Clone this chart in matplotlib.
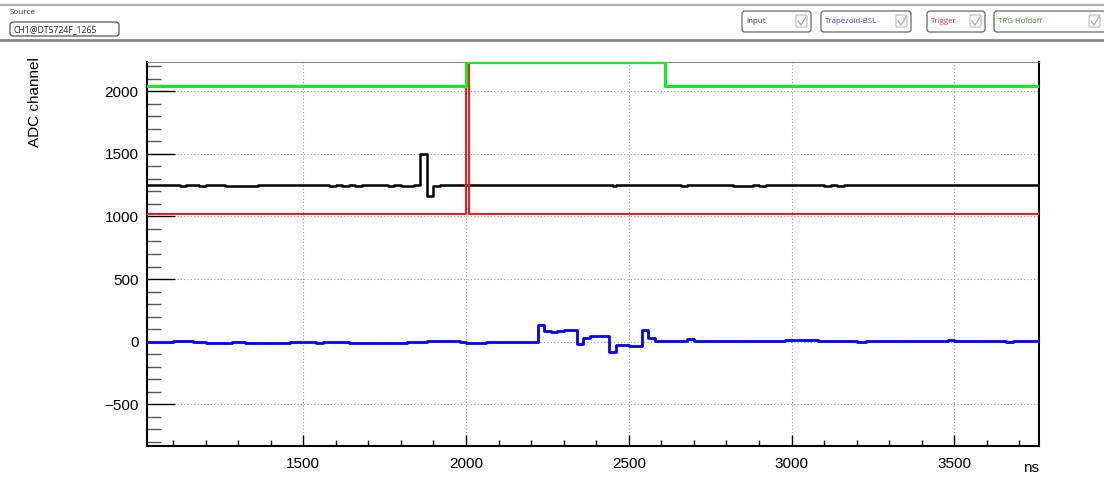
import matplotlib
matplotlib.use("Agg")
import matplotlib.pyplot as plt
from matplotlib.patches import FancyBboxPatch
from matplotlib.lines import Line2D
from matplotlib.transforms import Affine2D
from matplotlib.ticker import MultipleLocator

W, H = 1104, 478

# waveforms as change points: time (ns) -> level (ADC channel), held until next point
input_t = [1020, 1120, 1140, 1180, 1200, 1260, 1360, 1580, 1600, 1620, 1640, 1660, 1680,
           1760, 1780, 1800, 1840, 1860, 1880, 1900, 1920, 2450, 2460, 2660, 2680,
           2820, 2880, 2900, 2920, 3100, 3120, 3140, 3160, 3770]
input_v = [1250, 1240, 1250, 1240, 1250, 1240, 1250, 1240, 1250, 1240, 1250, 1240, 1250,
           1240, 1250, 1240, 1250, 1500, 1160, 1240, 1250, 1240, 1250, 1240, 1250,
           1240, 1250, 1240, 1250, 1240, 1250, 1240, 1250, 1250]

trap_t = [1020, 1100, 1160, 1200, 1280, 1320, 1460, 1540, 1560, 1640, 1820, 1880, 1980,
          2000, 2060, 2220, 2240, 2260, 2280, 2300, 2340, 2360, 2380, 2440, 2460, 2500,
          2540, 2560, 2580, 2680, 2700, 2980, 3080, 3200, 3230, 3400, 3480, 3500, 3660,
          3680, 3770]
trap_v = [0, 8, 0, -8, 0, -8, 0, -8, 0, -8, 0, 8, 0,
          -8, 0, 130, 85, 77, 85, 91, -21, 32, 48, -82, -26, -37,
          91, 32, 8, 18, 6, 14, 6, -4, 2, 6, 12, 6, 0,
          6, 6]

trig_t = [1020, 2000, 2010, 3770]
trig_v = [1020, 2600, 1020, 1020]

hold_t = [1020, 2000, 2610, 3770]
hold_v = [2040, 2232, 2040, 2040]

fig = plt.figure(figsize=(W / 100, H / 100), dpi=100)
plt.rcParams['font.family'] = ['Liberation Sans', 'DejaVu Sans']

# pixel coordinates measured from the top-left corner of the figure
px = Affine2D().scale(1, -1).translate(0, H).scale(0.01) + fig.dpi_scale_trans

# --- toolbar strip ---
fig.add_artist(Line2D([0, W], [4.5, 4.5], color='#b0b0b0', lw=1.5, transform=px))
fig.add_artist(Line2D([0, W], [39.5, 39.5], color='#8a8a8a', lw=2, transform=px))
fig.text(10, 13, 'Source', fontsize=5.8, family='Open Sans', va='center', transform=px, color='#222')
fig.add_artist(FancyBboxPatch((10, 22), 109, 14, boxstyle='round,pad=0,rounding_size=3',
                              fc='white', ec='#555', lw=0.9, transform=px))
fig.text(13, 29.5, 'CH1@DT5724F_1265', fontsize=6.2, family='Open Sans', va='center',
         transform=px, color='#222')

checks = [('Input', 742, 811, '#333333'),
          ('Trapezoid-BSL', 821, 911, '#3a3aff'),
          ('Trigger', 927, 985, '#ff3355'),
          ('TRG Holdoff', 994, 1110, '#3a9a1a')]
for label, x0, x1, col in checks:
    fig.add_artist(FancyBboxPatch((x0, 11), x1 - x0, 21, boxstyle='round,pad=0,rounding_size=3',
                                  fc='white', ec='#666', lw=0.9, transform=px))
    fig.text(x0 + 4, 21.5, label, fontsize=5.7, family='Open Sans', va='center',
             transform=px, color=col)
    cx = min(x1, 1104) - 15
    fig.add_artist(FancyBboxPatch((cx, 15), 11, 12, boxstyle='round,pad=0,rounding_size=1',
                                  fc='white', ec='#bbb', lw=0.8, transform=px))
    fig.add_artist(Line2D([cx + 2, cx + 5, cx + 10], [21, 25, 17], color='#aaa', lw=0.9,
                          transform=px))

# --- waveform frame ---
ax = fig.add_axes([147 / W, 1 - 446 / H, (1039 - 147) / W, (446 - 62) / H])

ax.plot(input_t, input_v, drawstyle='steps-post', color='black', lw=1.8, zorder=3)
ax.plot(trap_t, trap_v, drawstyle='steps-post', color='#0000ff', lw=2.0, zorder=3)
ax.plot(trig_t, trig_v, drawstyle='steps-post', color='#ff1010', lw=1.4, zorder=4)
ax.plot(hold_t, hold_v, drawstyle='steps-post', color='#11ee11', lw=2.2, zorder=5)

ax.set_xlim(1020, 3760)
ax.set_ylim(-835, 2235)

ax.xaxis.set_major_locator(MultipleLocator(500))
ax.xaxis.set_minor_locator(MultipleLocator(100))
ax.yaxis.set_major_locator(MultipleLocator(500))
ax.yaxis.set_minor_locator(MultipleLocator(100))
ax.tick_params(axis='x', which='major', direction='in', length=8, width=1, labelsize=11, pad=8)
ax.tick_params(axis='x', which='minor', direction='in', length=4, width=1)
ax.tick_params(axis='y', which='major', direction='in', length=20, width=1, labelsize=11, pad=6)
ax.tick_params(axis='y', which='minor', direction='in', length=10, width=1, color='#555')
ax.yaxis.set_major_formatter(matplotlib.ticker.FuncFormatter(
    lambda v, p: f'{int(v)}'.replace('-', '\u2212')))

ax.grid(True, which='major', linestyle=(0, (1, 2)), color='#999', lw=0.8, zorder=1)
for side in ('left', 'bottom'):
    ax.spines[side].set_linewidth(1.5)
ax.spines['top'].set_color('#888')
ax.spines['right'].set_linewidth(1.5)

fig.text(35, 102, 'ADC channel', rotation=90, fontsize=11, ha='center', va='center', transform=px)
fig.text(1039, 468, 'ns', fontsize=11, ha='right', va='center', transform=px)

fig.savefig('out.png', dpi=100)
